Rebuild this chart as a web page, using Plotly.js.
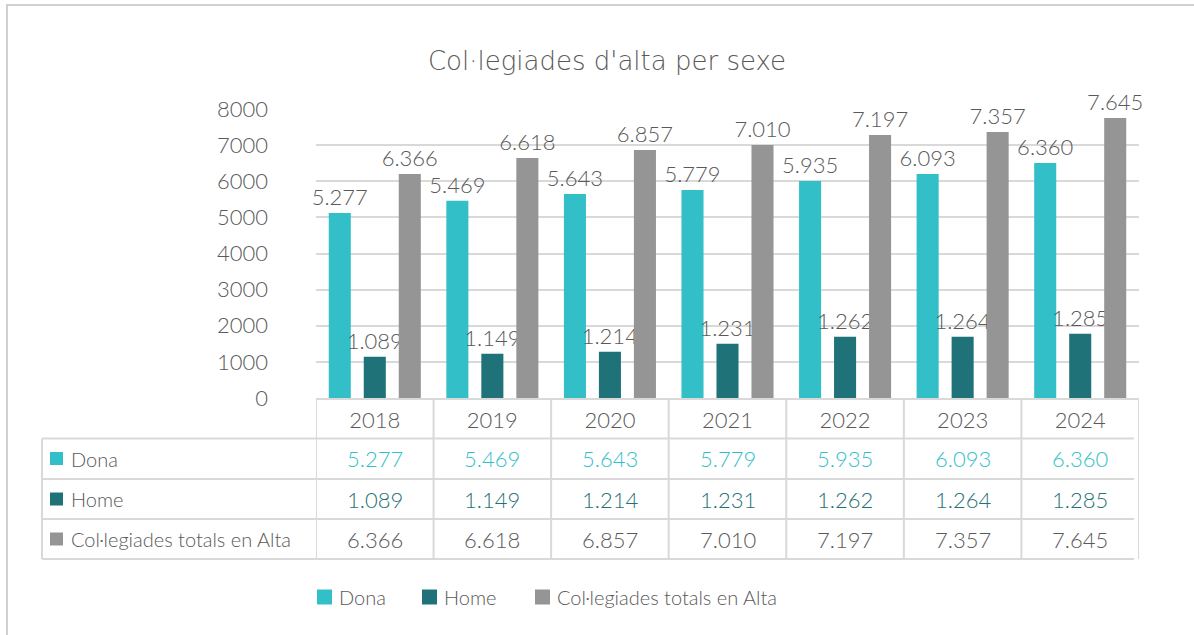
<!DOCTYPE html>
<html>
<head>
<meta charset="utf-8">
<script src="https://cdn.plot.ly/plotly-3.0.1.min.js"></script>
<style>
  html, body { margin: 0; padding: 0; background: #ffffff; }
  #chart { width: 1194px; height: 635px; }
</style>
</head>
<body>
<div id="chart"></div>
<script>
// ---- data ----
const years = ['2018', '2019', '2020', '2021', '2022', '2023', '2024'];
const seriesNames = ['Dona', 'Home', 'Col·legiades totals en Alta'];
// bar heights as drawn in the reference picture
const donaBars  = [5124, 5457, 5650, 5760, 6010, 6203, 6507];
const homeBars  = [1142, 1225, 1280, 1502, 1695, 1695, 1778];
const totalBars = [6203, 6645, 6867, 7005, 7282, 7365, 7752];
// values printed in the labels and the data table
const donaLabels  = ['5.277', '5.469', '5.643', '5.779', '5.935', '6.093', '6.360'];
const homeLabels  = ['1.089', '1.149', '1.214', '1.231', '1.262', '1.264', '1.285'];
const totalLabels = ['6.366', '6.618', '6.857', '7.010', '7.197', '7.357', '7.645'];
const yTicks = [0, 1000, 2000, 3000, 4000, 5000, 6000, 7000, 8000];

// ---- style ----
const TFONT = 'DejaVu Sans, sans-serif';
const FONT = 'Lato, DejaVu Sans, sans-serif';
const WT = 300;
const TXT = '#595959';
const colors = ['#33BFC8', '#1F7278', '#949594'];
const tableTextColors = ['#33BFC8', '#1F7278', TXT];
const GRID = '#d9d9d9';
const FS = 20;   // words
const NS = 22;   // numbers

const W = 1194, H = 635;
const L = 316, R = 1139, T = 109, B = 398;
const PW = R - L, PH = B - T;
const X = px => (px - L) / PW;   // pixel -> paper x
const Y = py => (B - py) / PH;   // pixel -> paper y

const barsData = [donaBars, homeBars, totalBars];
const labelData = [donaLabels, homeLabels, totalLabels];

const traces = seriesNames.map((name, i) => ({
  type: 'bar',
  name: name,
  x: years,
  y: barsData[i],
  text: labelData[i],
  textposition: 'outside',
  constraintext: 'none',
  cliponaxis: false,
  textfont: { family: FONT, size: NS, color: TXT, weight: WT },
  marker: { color: colors[i], line: { width: 0 } },
  hoverinfo: 'x+y+name'
}));

// ---- data table ----
const shapes = [];
const annotations = [];
const lineStyle = { color: GRID, width: 2 };
const rowLines = [438.5, 479, 519, 559];
rowLines.forEach(py => {
  shapes.push({ type: 'line', xref: 'paper', yref: 'paper', x0: X(42), x1: X(1134), y0: Y(py), y1: Y(py), line: lineStyle });
});
// vertical lines between year columns
for (let k = 0; k <= years.length; k++) {
  shapes.push({ type: 'line', xref: 'x', yref: 'paper', x0: k - 0.5, x1: k - 0.5, y0: Y(399), y1: Y(559), line: lineStyle });
}
// left border of the label column
shapes.push({ type: 'line', xref: 'paper', yref: 'paper', x0: X(42), x1: X(42), y0: Y(438.5), y1: Y(559), line: lineStyle });

const rowCenters = [458.5, 499, 539];
seriesNames.forEach((name, i) => {
  const cy = rowCenters[i];
  shapes.push({ type: 'rect', xref: 'paper', yref: 'paper', x0: X(50), x1: X(63), y0: Y(cy - 6.5), y1: Y(cy + 6.5), fillcolor: colors[i], line: { width: 0 } });
  annotations.push({ xref: 'paper', yref: 'paper', x: X(69), y: Y(cy), xanchor: 'left', yanchor: 'middle', text: name, showarrow: false, font: { family: FONT, size: FS, color: TXT, weight: WT } });
  years.forEach((yr, j) => {
    annotations.push({ xref: 'x', yref: 'paper', x: j, y: Y(cy), xanchor: 'center', yanchor: 'middle', text: labelData[i][j], showarrow: false, font: { family: FONT, size: NS, color: tableTextColors[i], weight: WT } });
  });
});

// ---- legend (below the table) ----
const legendSquares = [317, 422, 535];
seriesNames.forEach((name, i) => {
  const sx = legendSquares[i];
  shapes.push({ type: 'rect', xref: 'paper', yref: 'paper', x0: X(sx), x1: X(sx + 15), y0: Y(597 - 7.5), y1: Y(597 + 7.5), fillcolor: colors[i], line: { width: 0 } });
  annotations.push({ xref: 'paper', yref: 'paper', x: X(sx + 20), y: Y(597), xanchor: 'left', yanchor: 'middle', text: name, showarrow: false, font: { family: FONT, size: FS, color: TXT, weight: WT } });
});

// outer frame (top & left edges visible in reference)
shapes.push({ type: 'line', xref: 'paper', yref: 'paper', x0: X(6), x1: X(1194), y0: Y(5), y1: Y(5), line: { color: '#d0d0d0', width: 2 } });
shapes.push({ type: 'line', xref: 'paper', yref: 'paper', x0: X(7), x1: X(7), y0: Y(5), y1: Y(635), line: { color: '#d0d0d0', width: 2 } });

const layout = {
  width: W, height: H,
  margin: { l: L, r: W - R, t: T, b: H - B, pad: 0 },
  paper_bgcolor: '#ffffff',
  plot_bgcolor: '#ffffff',
  font: { family: FONT, color: TXT, size: FS, weight: WT },
  title: {
    text: "Col·legiades d'alta per sexe",
    font: { family: TFONT, size: 26, color: TXT, weight: WT },
    xref: 'container', yref: 'container',
    x: 607 / W, y: 1 - 61 / H, xanchor: 'center', yanchor: 'middle'
  },
  barmode: 'group',
  bargap: 0.107,
  bargroupgap: 0.37,
  xaxis: {
    type: 'category',
    range: [-0.5, years.length - 0.5],
    showgrid: false,
    zeroline: false,
    showline: true, linecolor: GRID, linewidth: 2,
    ticks: '',
    tickfont: { family: FONT, size: NS, color: TXT, weight: WT },
    ticklabelstandoff: 2,
    fixedrange: true
  },
  yaxis: {
    range: [0, 8000],
    tickvals: yTicks,
    ticktext: yTicks.map(String),
    showgrid: true, gridcolor: GRID, gridwidth: 2,
    zeroline: false,
    showline: false,
    ticks: '',
    tickfont: { family: FONT, size: NS, color: TXT, weight: WT },
    ticklabelstandoff: 47,
    fixedrange: true
  },
  showlegend: false,
  shapes: shapes,
  annotations: annotations
};

Plotly.newPlot('chart', traces, layout, { displayModeBar: false, staticPlot: true });
</script>
</body>
</html>
